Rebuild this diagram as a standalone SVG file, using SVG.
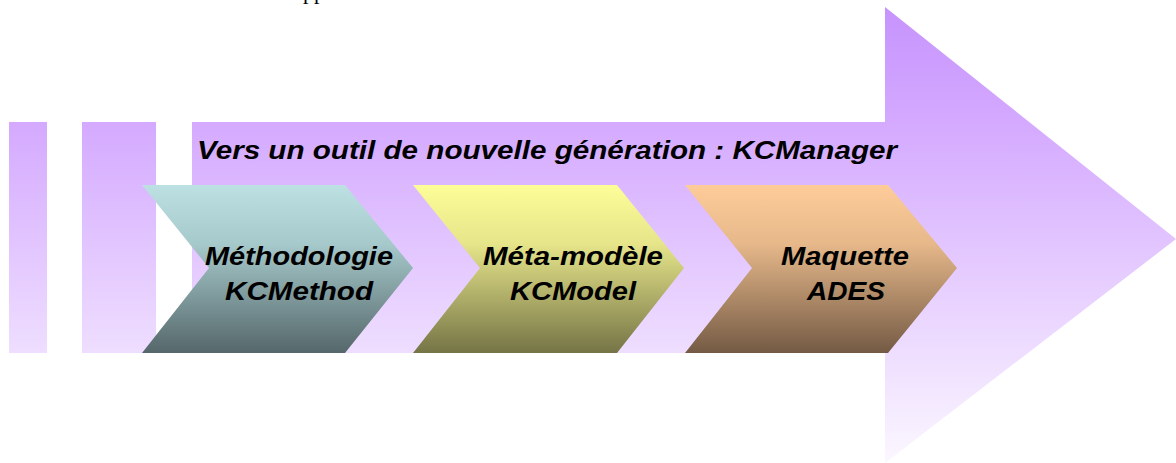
<svg xmlns="http://www.w3.org/2000/svg" width="1176" height="463" viewBox="0 0 1176 463">
  <defs>
    <linearGradient id="gPurple" gradientUnits="userSpaceOnUse" x1="0" y1="7" x2="0" y2="463">
      <stop offset="0" stop-color="#c693fd"/>
      <stop offset="0.25" stop-color="#d4a9ff"/>
      <stop offset="1" stop-color="#fbf7ff"/>
    </linearGradient>
    <linearGradient id="gCyan" x1="0" y1="0" x2="0" y2="1">
      <stop offset="0" stop-color="#bde1e3"/>
      <stop offset="0.35" stop-color="#a6c9cb"/>
      <stop offset="1" stop-color="#55676a"/>
    </linearGradient>
    <linearGradient id="gYellow" x1="0" y1="0" x2="0" y2="1">
      <stop offset="0" stop-color="#fdfd98"/>
      <stop offset="0.35" stop-color="#e6e58a"/>
      <stop offset="1" stop-color="#757446"/>
    </linearGradient>
    <linearGradient id="gOrange" x1="0" y1="0" x2="0" y2="1">
      <stop offset="0" stop-color="#fecc99"/>
      <stop offset="0.35" stop-color="#e6b88a"/>
      <stop offset="1" stop-color="#745a44"/>
    </linearGradient>
  </defs>
  <style>
    .lbl { font-family: "Liberation Sans", Arial, sans-serif; font-weight: bold; font-style: italic; font-size: 25px; fill: #000; }
    .top { font-family: "Liberation Serif", "Times New Roman", serif; font-size: 22px; fill: #000; }
  </style>

  <text class="top" x="303" y="-1">pp</text>

  <g id="background-arrow">
    <rect x="9" y="122" width="38" height="231" fill="url(#gPurple)"/>
    <rect x="82" y="122" width="74" height="231" fill="url(#gPurple)"/>
    <polygon points="192,122 885,122 885,7 1176,239 885,463 885,353 192,353" fill="url(#gPurple)"/>
    <text class="lbl" x="197" y="159" textLength="700" lengthAdjust="spacingAndGlyphs">Vers un outil de nouvelle génération : KCManager</text>
  </g>

  <g id="node-kcmethod">
    <polygon points="142,185 345,185 413,268 345,353 142,353 209,268" fill="url(#gCyan)"/>
    <text class="lbl" x="205" y="265" textLength="188" lengthAdjust="spacingAndGlyphs">Méthodologie</text>
    <text class="lbl" x="225" y="300" textLength="148" lengthAdjust="spacingAndGlyphs">KCMethod</text>
  </g>

  <g id="node-kcmodel">
    <polygon points="413,185 617,185 684,268 617,353 413,353 480,268" fill="url(#gYellow)"/>
    <text class="lbl" x="483" y="265" textLength="180" lengthAdjust="spacingAndGlyphs">Méta-modèle</text>
    <text class="lbl" x="510" y="300" textLength="126" lengthAdjust="spacingAndGlyphs">KCModel</text>
  </g>

  <g id="node-ades">
    <polygon points="685,185 888,185 957,268 888,353 685,353 752,268" fill="url(#gOrange)"/>
    <text class="lbl" x="781" y="265" textLength="128" lengthAdjust="spacingAndGlyphs">Maquette</text>
    <text class="lbl" x="807" y="300" textLength="78" lengthAdjust="spacingAndGlyphs">ADES</text>
  </g>

  <g id="connectors"></g>
</svg>
